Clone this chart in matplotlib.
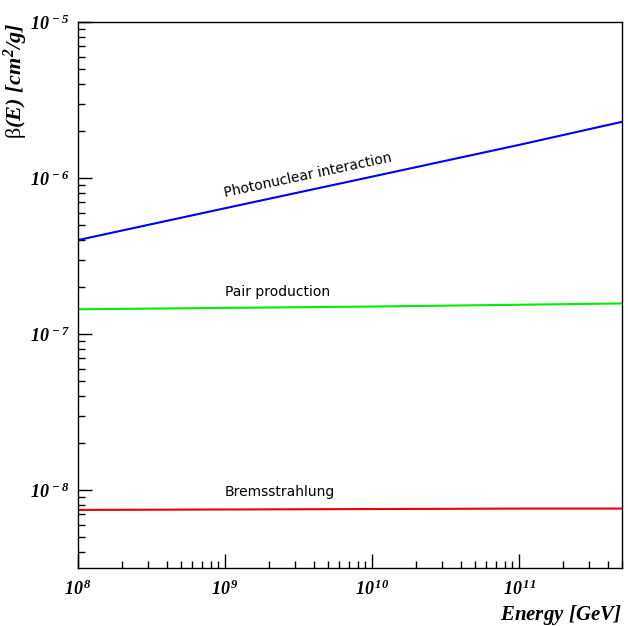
import numpy as np
import matplotlib
matplotlib.use("Agg")
import matplotlib.pyplot as plt
from matplotlib.ticker import LogLocator, FuncFormatter, NullFormatter

plt.rcParams['mathtext.fontset'] = 'custom'
plt.rcParams['mathtext.rm'] = 'Liberation Serif:italic:bold'
plt.rcParams['mathtext.it'] = 'Liberation Serif:italic:bold'
plt.rcParams['mathtext.bf'] = 'Liberation Serif:italic:bold'
plt.rcParams['mathtext.sf'] = 'Liberation Serif'

# Energia [GeV] si coeficientii de pierdere beta(E) [cm^2/g]
energy = [1e8, 1e9, 1e10, 1e11, 5e11]
beta_photonuclear = [4.0e-7, 6.4e-7, 1.02e-6, 1.63e-6, 2.29e-6]
beta_pair = [1.44e-7, 1.47e-7, 1.50e-7, 1.54e-7, 1.57e-7]
beta_brems = [7.45e-9, 7.5e-9, 7.55e-9, 7.6e-9, 7.6e-9]

labels = ['Photonuclear interaction', 'Pair production', 'Bremsstrahlung']

fig = plt.figure(figsize=(6.28, 6.26), dpi=100)
ax = fig.add_axes([78 / 628, 58 / 626, 544 / 628, 546 / 626])

ax.plot(energy, beta_photonuclear, color='#0000ee', lw=1.5)
ax.plot(energy, beta_pair, color='#00ee00', lw=1.5)
ax.plot(energy, beta_brems, color='#ee0000', lw=1.5)

ax.set_xscale('log')
ax.set_yscale('log')
ax.set_xlim(1e8, 10 ** 11.7)
ax.set_ylim(10 ** -8.5, 1e-5)

# Etichete pe curbe
txt_kw = dict(fontsize=10, family='DejaVu Sans', color='black')
ax.text(1e9, 7.5e-7, labels[0], rotation=12, rotation_mode='anchor',
        ha='left', va='baseline', **txt_kw)
ax.text(1e9, 1.75e-7, labels[1], ha='left', va='baseline', **txt_kw)
ax.text(1e9, 9.2e-9, labels[2], ha='left', va='baseline', **txt_kw)

# Ticks in stil ROOT
def fmt(v, pos):
    e = int(round(np.log10(v)))
    return r'$10^{\,%d}$' % e

ax.xaxis.set_major_locator(LogLocator(base=10, numticks=20))
ax.yaxis.set_major_locator(LogLocator(base=10, numticks=20))
ax.xaxis.set_minor_locator(LogLocator(base=10, subs=np.arange(2, 10), numticks=20))
ax.yaxis.set_minor_locator(LogLocator(base=10, subs=np.arange(2, 10), numticks=20))
ax.xaxis.set_major_formatter(FuncFormatter(fmt))
ax.yaxis.set_major_formatter(FuncFormatter(fmt))
ax.xaxis.set_minor_formatter(NullFormatter())
ax.yaxis.set_minor_formatter(NullFormatter())
ax.tick_params(which='both', direction='in', top=False, right=False, labelsize=13)
ax.tick_params(which='major', length=10, width=1)
ax.tick_params(which='minor', length=5, width=1)
ax.tick_params(axis='x', pad=8)
ax.tick_params(axis='y', pad=6)

for s in ax.spines.values():
    s.set_linewidth(1)

ax.set_ylabel(r'$\mathsf{\beta}(E)\ [cm^{2}/g]$', fontsize=16, loc='top')
ax.yaxis.set_label_coords(-0.088, 1.0)
ax.set_xlabel(r'$Energy\ [GeV]$', fontsize=15, loc='right')
ax.xaxis.set_label_coords(1.0, -0.064)

plt.savefig('out.png', dpi=100)
